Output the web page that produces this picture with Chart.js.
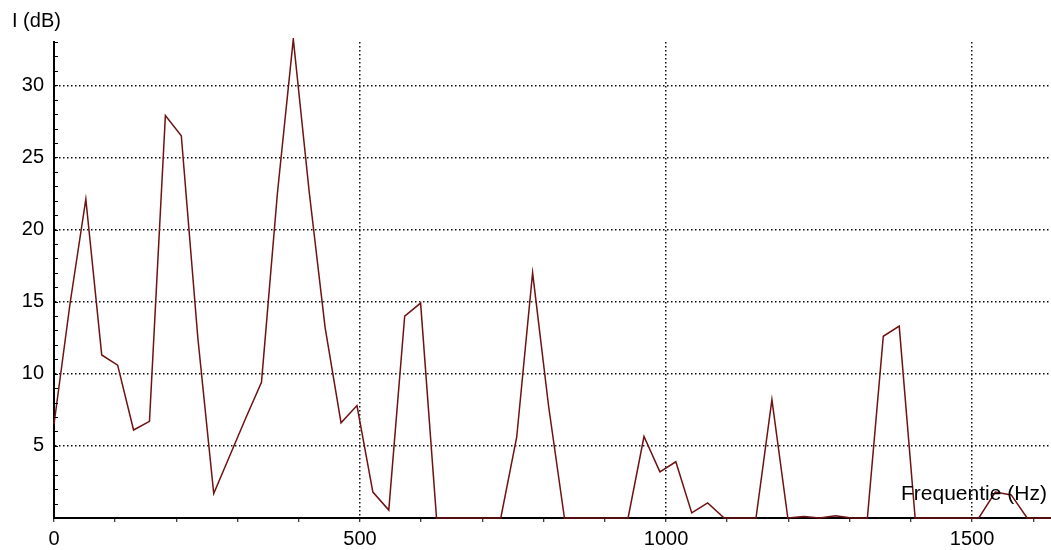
<!DOCTYPE html>
<html>
<head>
<meta charset="utf-8">
<script src="https://cdn.jsdelivr.net/npm/chart.js@4/dist/chart.umd.min.js"></script>
<style>
  html, body { margin: 0; padding: 0; background: #fff; }
</style>
</head>
<body>
<canvas id="spectrum" width="1051" height="550"></canvas>
<script>
// spectrum data (Hz / dB)
const freqs = [0, 26, 52, 78, 104, 130, 156, 182, 208, 235, 261, 287, 313, 339, 365, 391,
  417, 443, 469, 495, 521, 547, 573, 599, 625, 652, 678, 704, 730, 756, 782, 808,
  834, 860, 886, 912, 938, 964, 990, 1016, 1042, 1068, 1095, 1121, 1147, 1173, 1199, 1225,
  1251, 1277, 1303, 1329, 1355, 1381, 1407, 1433, 1459, 1485, 1511, 1538, 1564, 1590, 1616, 1642];
const levels = [6.5, 14.8, 22.1, 11.3, 10.6, 6.1, 6.7, 27.9, 26.5, 12.5, 1.7, 4.3, 6.9, 9.4, 22.5, 33.2,
  22.6, 13.2, 6.6, 7.8, 1.8, 0.55, 14.0, 14.9, 0, 0, 0, 0, 0, 5.6, 17.0, 7.8,
  0, 0, 0, 0, 0, 5.65, 3.2, 3.9, 0.35, 1.05, 0, 0, 0, 8.2, 0, 0.1,
  0, 0.15, 0, 0, 12.6, 13.3, 0, 0, 0, 0, 0, 1.8, 1.6, 0, 0, 0];

const xTickLabels = [0, 500, 1000, 1500];
const yTickLabels = [5, 10, 15, 20, 25, 30];
const yTitle = 'I (dB)';
const xTitle = 'Frequentie (Hz)';

const FONT = '"Liberation Sans", Arial, sans-serif';

// small inward ticks on y axis + the two axis titles
const extras = {
  id: 'extras',
  afterDraw(chart) {
    const { ctx, chartArea, scales } = chart;
    ctx.save();
    ctx.strokeStyle = '#000';
    ctx.lineWidth = 1;
    scales.y.ticks.forEach(t => {
      const py = Math.round(scales.y.getPixelForValue(t.value)) + 0.5;
      ctx.beginPath();
      ctx.moveTo(chartArea.left, py);
      ctx.lineTo(chartArea.left + 4, py);
      ctx.stroke();
    });
    ctx.fillStyle = '#000';
    ctx.textBaseline = 'middle';
    ctx.textAlign = 'left';
    ctx.font = '20px ' + FONT;
    ctx.fillText(yTitle, chartArea.left - 42, chartArea.top - 21);
    ctx.font = '21px ' + FONT;
    ctx.fillText(xTitle, chartArea.right - 150, chartArea.bottom - 24);
    ctx.restore();
  }
};

const ctx = document.getElementById('spectrum').getContext('2d');
const chart = new Chart(ctx, {
  type: 'line',
  data: {
    datasets: [{
      data: freqs.map((f, i) => ({ x: f, y: levels[i] })),
      borderColor: '#6e1212',
      borderWidth: 1.5,
      pointRadius: 0,
      tension: 0,
      fill: false,
      clip: 4
    }]
  },
  options: {
    responsive: false,
    animation: false,
    layout: { padding: { top: 42, right: 0, left: 0, bottom: 0 } },
    plugins: { legend: { display: false }, tooltip: { enabled: false } },
    scales: {
      x: {
        type: 'linear',
        min: 0,
        max: 1629,
        afterFit: s => { s.height = 32; },
        ticks: {
          stepSize: 100,
          includeBounds: false,
          autoSkip: false,
          maxRotation: 0,
          padding: 5,
          color: '#000',
          font: { family: FONT, size: 20 },
          callback: v => xTickLabels.includes(v) ? String(v) : ''
        },
        grid: {
          color: c => (c.tick && c.tick.value !== 0 && xTickLabels.includes(c.tick.value)) ? '#111' : 'rgba(0,0,0,0)',
          lineWidth: 1.5,
          tickColor: '#000',
          tickLength: 4,
          tickWidth: 1
        },
        border: { color: '#000', width: 2, dash: [1.5, 2.5] }
      },
      y: {
        min: 0,
        max: 33,
        afterFit: s => { s.width = 54; },
        ticks: {
          stepSize: 1,
          includeBounds: false,
          autoSkip: false,
          padding: 10,
          color: '#000',
          font: { family: FONT, size: 20 },
          callback: v => yTickLabels.includes(v) ? String(v) : ''
        },
        grid: {
          color: c => (c.tick && yTickLabels.includes(c.tick.value)) ? '#111' : 'rgba(0,0,0,0)',
          lineWidth: 1.5,
          drawTicks: false
        },
        border: { color: '#000', width: 2, dash: [1.5, 2.5] }
      }
    }
  },
  plugins: [extras]
});
</script>
</body>
</html>
